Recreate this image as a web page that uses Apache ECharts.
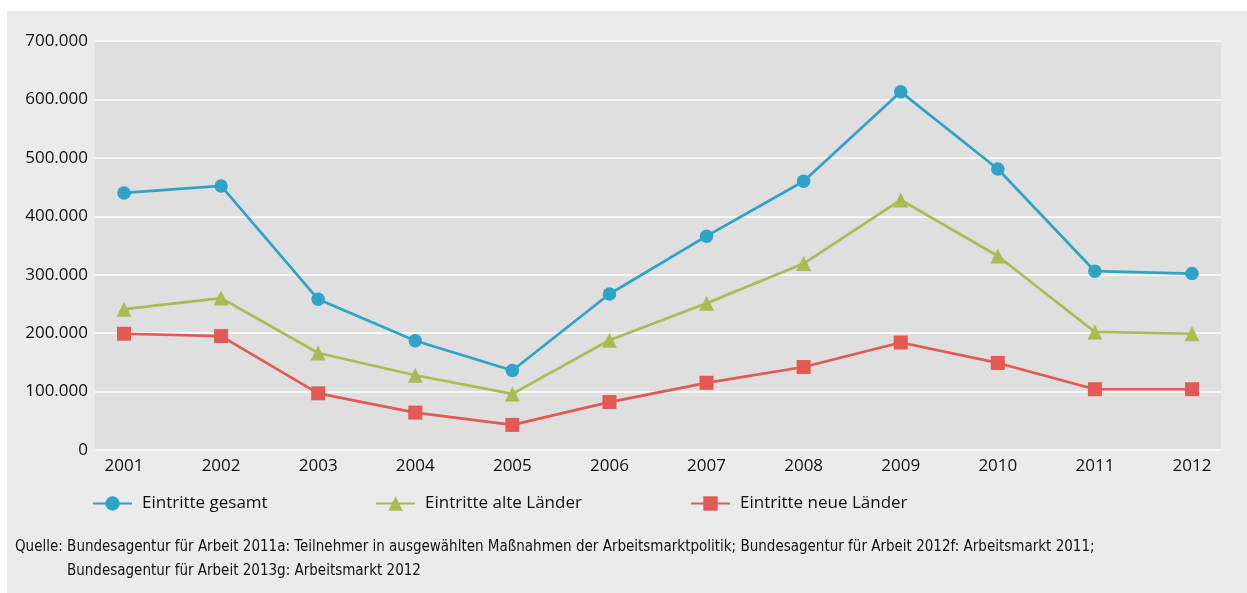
<!DOCTYPE html>
<html>
<head>
<meta charset="utf-8">
<script src="https://cdn.jsdelivr.net/npm/echarts@6/dist/echarts.min.js"></script>
<style>
html,body{margin:0;padding:0;background:#ffffff;}
#wrap{position:absolute;left:7px;top:11px;width:1240px;height:582px;background:#ebebeb;}
#chart{position:absolute;left:0;top:0;width:1247px;height:593px;}
</style>
</head>
<body>
<div id="wrap"></div>
<div id="chart"></div>
<script>
const years = ['2001','2002','2003','2004','2005','2006','2007','2008','2009','2010','2011','2012'];
const gesamt = [440000, 452000, 258000, 187000, 136000, 267000, 366000, 460000, 613000, 481000, 306000, 302000];
const alteLaender = [241000, 260000, 166000, 128000, 96000, 188000, 251000, 319000, 428000, 332000, 202000, 199000];
const neueLaender = [199000, 195000, 97000, 64000, 43000, 82000, 115000, 142000, 184000, 149000, 104000, 104000];
const seriesNames = ['Eintritte gesamt', 'Eintritte alte Länder', 'Eintritte neue Länder'];
const yTicks = [0, 100000, 200000, 300000, 400000, 500000, 600000, 700000];
const sourceLine1 = 'Quelle: Bundesagentur für Arbeit 2011a: Teilnehmer in ausgewählten Maßnahmen der Arbeitsmarktpolitik; Bundesagentur für Arbeit 2012f: Arbeitsmarkt 2011;';
const sourceLine2 = 'Bundesagentur für Arbeit 2013g: Arbeitsmarkt 2012';

const FONT = "Open Sans";
const NARROW = "'Liberation Sans Narrow', 'DejaVu Sans Condensed', sans-serif";
const colors = ['#2ea3c7', '#a7bc52', '#e25a53'];
const symbols = ['circle', 'triangle', 'rect'];
const symbolSizes = [13.5, 15, 14];
const data = [gesamt, alteLaender, neueLaender];

function fmt(v){ return String(Math.round(v)).replace(/\B(?=(\d{3})+(?!\d))/g, '.'); }

const chart = echarts.init(document.getElementById('chart'), null, {renderer:'canvas'});
const legendLefts = [92, 375, 690];
chart.setOption({
  backgroundColor: 'transparent',
  animation: false,
  grid: [
    {left: 95, right: 26, top: 41, bottom: 143, show: true, backgroundColor: '#dfdfdf', borderWidth: 0},
    {left: 124, right: 55, top: 41, bottom: 143}
  ],
  xAxis: [
    {gridIndex: 0, type: 'value', min: 0, max: 1, show: false},
    {gridIndex: 1, type: 'category', data: years, boundaryGap: false,
     axisLine: {show: false}, axisTick: {show: false}, splitLine: {show: false},
     axisLabel: {color: '#111', fontSize: 17, fontFamily: FONT, margin: 8}}
  ],
  yAxis: [
    {gridIndex: 0, type: 'value', min: yTicks[0], max: yTicks[yTicks.length-1], interval: 100000,
     axisLine: {show: false}, axisTick: {show: false},
     splitLine: {show: true, lineStyle: {color: '#ffffff', width: 1.5}},
     axisLabel: {color: '#111', fontSize: 17, fontFamily: FONT, margin: 7, formatter: fmt}},
    {gridIndex: 1, type: 'value', min: yTicks[0], max: yTicks[yTicks.length-1], show: false, splitLine: {show: false}}
  ],
  legend: seriesNames.map((n, i) => ({
    data: [n], left: legendLefts[i], top: 495, padding: 0, itemWidth: 39, itemHeight: 18, itemGap: 10,
    textStyle: {fontSize: 17, color: '#111', fontFamily: FONT, padding: [0,0,0,5]}
  })),
  series: seriesNames.map((n, i) => ({
    name: n, type: 'line', xAxisIndex: 1, yAxisIndex: 1, data: data[i],
    symbol: symbols[i], symbolSize: symbolSizes[i], showAllSymbol: true,
    lineStyle: {color: colors[i], width: 2.7},
    itemStyle: {color: colors[i], borderWidth: 0}
  })),
  graphic: [
    {type: 'text', left: 15, top: 540, style: {text: sourceLine1, fill: '#111', font: "15px " + NARROW}},
    {type: 'text', left: 67, top: 564, style: {text: sourceLine2, fill: '#111', font: "15px " + NARROW}}
  ]
});
</script>
</body>
</html>
